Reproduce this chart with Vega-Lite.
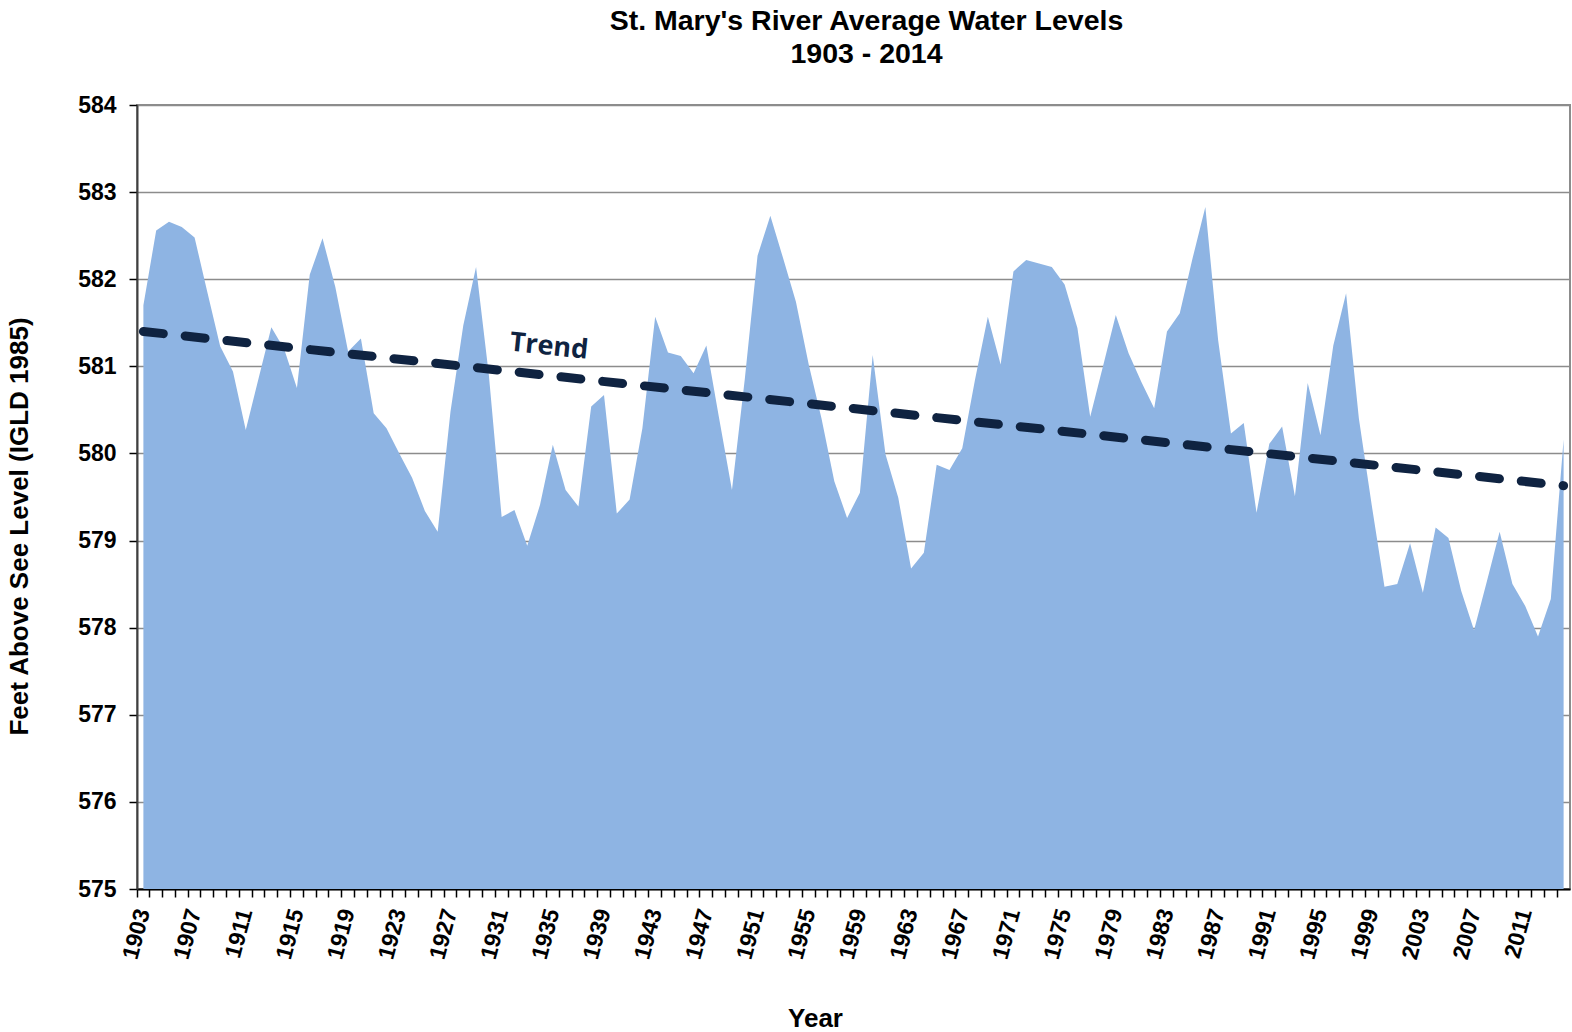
{
  "$schema": "https://vega.github.io/schema/vega-lite/v6.json",
  "width": 1433,
  "height": 784,
  "autosize": "none",
  "padding": {"left": 137, "top": 105, "right": 2, "bottom": 143},
  "background": "white",
  "title": {
    "text": ["St. Mary's River Average Water Levels", "1903 - 2014"],
    "font": "Liberation Sans",
    "fontSize": 28.5,
    "fontWeight": "bold",
    "lineHeight": 33,
    "color": "#000000",
    "anchor": "middle",
    "frame": "group",
    "dx": 13,
    "offset": 26
  },
  "config": {
    "view": {"stroke": "#8c8c8c", "strokeWidth": 2},
    "axis": {
      "labelFont": "Liberation Sans",
      "labelFontSize": 23,
      "labelFontWeight": "bold",
      "labelColor": "#000000",
      "titleFont": "Liberation Sans",
      "titleFontSize": 26,
      "titleFontWeight": "bold",
      "titleColor": "#000000"
    }
  },
  "layer": [
    {
      "data": {"values": [
        {"year": 1903, "level": 581.70}, {"year": 1904, "level": 582.56}, {"year": 1905, "level": 582.66},
        {"year": 1906, "level": 582.60}, {"year": 1907, "level": 582.48}, {"year": 1908, "level": 581.85},
        {"year": 1909, "level": 581.23}, {"year": 1910, "level": 580.94}, {"year": 1911, "level": 580.27},
        {"year": 1912, "level": 580.86}, {"year": 1913, "level": 581.45}, {"year": 1914, "level": 581.20},
        {"year": 1915, "level": 580.75}, {"year": 1916, "level": 582.05}, {"year": 1917, "level": 582.47},
        {"year": 1918, "level": 581.91}, {"year": 1919, "level": 581.17}, {"year": 1920, "level": 581.32},
        {"year": 1921, "level": 580.46}, {"year": 1922, "level": 580.29}, {"year": 1923, "level": 580.00},
        {"year": 1924, "level": 579.72}, {"year": 1925, "level": 579.34}, {"year": 1926, "level": 579.10},
        {"year": 1927, "level": 580.48}, {"year": 1928, "level": 581.47}, {"year": 1929, "level": 582.14},
        {"year": 1930, "level": 580.90}, {"year": 1931, "level": 579.27}, {"year": 1932, "level": 579.35},
        {"year": 1933, "level": 578.94}, {"year": 1934, "level": 579.41}, {"year": 1935, "level": 580.10},
        {"year": 1936, "level": 579.58}, {"year": 1937, "level": 579.39}, {"year": 1938, "level": 580.54},
        {"year": 1939, "level": 580.67}, {"year": 1940, "level": 579.31}, {"year": 1941, "level": 579.47},
        {"year": 1942, "level": 580.29}, {"year": 1943, "level": 581.57}, {"year": 1944, "level": 581.16},
        {"year": 1945, "level": 581.12}, {"year": 1946, "level": 580.92}, {"year": 1947, "level": 581.24},
        {"year": 1948, "level": 580.40}, {"year": 1949, "level": 579.58}, {"year": 1950, "level": 580.85},
        {"year": 1951, "level": 582.27}, {"year": 1952, "level": 582.73}, {"year": 1953, "level": 582.24},
        {"year": 1954, "level": 581.74}, {"year": 1955, "level": 581.02}, {"year": 1956, "level": 580.40},
        {"year": 1957, "level": 579.68}, {"year": 1958, "level": 579.26}, {"year": 1959, "level": 579.55},
        {"year": 1960, "level": 581.13}, {"year": 1961, "level": 579.99}, {"year": 1962, "level": 579.49},
        {"year": 1963, "level": 578.68}, {"year": 1964, "level": 578.86}, {"year": 1965, "level": 579.87},
        {"year": 1966, "level": 579.81}, {"year": 1967, "level": 580.06}, {"year": 1968, "level": 580.85},
        {"year": 1969, "level": 581.57}, {"year": 1970, "level": 581.02}, {"year": 1971, "level": 582.09},
        {"year": 1972, "level": 582.22}, {"year": 1973, "level": 582.18}, {"year": 1974, "level": 582.14},
        {"year": 1975, "level": 581.94}, {"year": 1976, "level": 581.44}, {"year": 1977, "level": 580.42},
        {"year": 1978, "level": 581.00}, {"year": 1979, "level": 581.59}, {"year": 1980, "level": 581.15},
        {"year": 1981, "level": 580.82}, {"year": 1982, "level": 580.52}, {"year": 1983, "level": 581.40},
        {"year": 1984, "level": 581.61}, {"year": 1985, "level": 582.24}, {"year": 1986, "level": 582.83},
        {"year": 1987, "level": 581.30}, {"year": 1988, "level": 580.23}, {"year": 1989, "level": 580.35},
        {"year": 1990, "level": 579.32}, {"year": 1991, "level": 580.11}, {"year": 1992, "level": 580.31},
        {"year": 1993, "level": 579.51}, {"year": 1994, "level": 580.81}, {"year": 1995, "level": 580.21},
        {"year": 1996, "level": 581.24}, {"year": 1997, "level": 581.84}, {"year": 1998, "level": 580.40},
        {"year": 1999, "level": 579.41}, {"year": 2000, "level": 578.47}, {"year": 2001, "level": 578.50},
        {"year": 2002, "level": 578.97}, {"year": 2003, "level": 578.40}, {"year": 2004, "level": 579.15},
        {"year": 2005, "level": 579.03}, {"year": 2006, "level": 578.42}, {"year": 2007, "level": 577.97},
        {"year": 2008, "level": 578.53}, {"year": 2009, "level": 579.10}, {"year": 2010, "level": 578.50},
        {"year": 2011, "level": 578.25}, {"year": 2012, "level": 577.90}, {"year": 2013, "level": 578.33},
        {"year": 2014, "level": 580.16}
      ]},
      "mark": {"type": "area", "color": "#8eb4e3", "opacity": 1, "line": false},
      "encoding": {
        "x": {
          "field": "year", "type": "ordinal", "bandPosition": 0.5,
          "scale": {"type": "band", "paddingInner": 0, "paddingOuter": 0},
          "axis": {
            "title": "Year",
            "titleX": 678,
            "titleY": 137,
            "titleAnchor": null,
            "titleAlign": "center",
            "titleBaseline": "alphabetic",
            "bandPosition": 0,
            "labelAngle": -75,
            "labelPadding": 12,
            "labelExpr": "(datum.value - 1903) % 4 === 0 ? datum.label : ''",
            "labelOverlap": false,
            "tickSize": 8,
            "tickColor": "#000000",
            "tickWidth": 1.5,
            "domainColor": "#000000",
            "domainWidth": 2,
            "grid": false
          }
        },
        "y": {
          "field": "level", "type": "quantitative",
          "scale": {"domain": [575, 584], "zero": false, "nice": false},
          "axis": {
            "title": "Feet Above See Level (IGLD 1985)",
            "titleX": -105,
            "titleY": 421,
            "titleAngle": -90,
            "titleAlign": "center",
            "titleBaseline": "bottom",
            "titleAnchor": null,
            "values": [575, 576, 577, 578, 579, 580, 581, 582, 583, 584],
            "format": "d",
            "labelPadding": 13,
            "tickSize": 8,
            "tickColor": "#000000",
            "tickWidth": 1.5,
            "domainColor": "#404040",
            "domainWidth": 2,
            "grid": true,
            "gridColor": "#8c8c8c",
            "gridWidth": 1.3
          }
        },
        "y2": {"datum": 575}
      }
    },
    {
      "data": {"values": [
        {"year": 1903, "level": 581.40},
        {"year": 2014, "level": 579.63}
      ]},
      "mark": {"type": "line", "color": "#0f2341", "strokeWidth": 9, "strokeDash": [20, 22], "strokeCap": "round"},
      "encoding": {
        "x": {"field": "year", "type": "ordinal", "bandPosition": 0.5},
        "y": {"field": "level", "type": "quantitative"}
      }
    },
    {
      "data": {"values": [
        {"year": 1935, "level": 581.22, "label": "Trend"}
      ]},
      "mark": {"type": "text", "font": "Open Sans", "fontSize": 27, "fontWeight": "bold", "color": "#0f2341", "angle": 6, "align": "center", "baseline": "middle", "dx": -4},
      "encoding": {
        "x": {"field": "year", "type": "ordinal", "bandPosition": 0.5},
        "y": {"field": "level", "type": "quantitative"},
        "text": {"field": "label"}
      }
    }
  ]
}
